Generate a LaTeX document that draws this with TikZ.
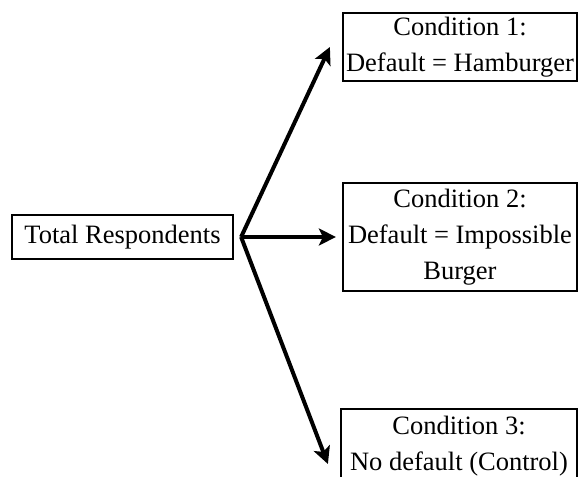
\documentclass[tikz,border=0pt]{standalone}
\usepackage{fontspec}
\setmainfont{Liberation Serif}
\usetikzlibrary{arrows.meta}
\begin{document}
\begin{tikzpicture}
\begin{scope}[x=1pt,y=-1pt,
  box/.style={draw,line width=2.2pt,rectangle,inner sep=0pt,align=center,
    font=\fontsize{26.5}{36}\selectfont},
  arr/.style={draw,line width=4pt,-{Stealth[length=17pt,width=17pt,inset=4pt]}}]
\useasboundingbox (0,0) rectangle (579,477);
\node[box,minimum width=221pt,minimum height=44pt] (t) at (122.5,237) {Total Respondents};
\node[box,minimum width=234pt,minimum height=68pt] (b1) at (460,47) {Condition 1:\\Default = Hamburger};
\node[box,minimum width=234pt,minimum height=108pt] (b2) at (460,237) {Condition 2:\\Default = Impossible\\Burger};
\node[box,minimum width=236pt,minimum height=74pt] (b3) at (459,446) {Condition 3:\\No default (Control)};
\coordinate (o) at ([xshift=7pt]t.east);
\path[arr] (o) -- ([xshift=-12pt]b1.west);
\path[arr] (o) -- ([xshift=-6pt]b2.west);
\path[arr] (o) -- ([xshift=-12pt,yshift=-18pt]b3.west);
\end{scope}
\end{tikzpicture}
\end{document}
